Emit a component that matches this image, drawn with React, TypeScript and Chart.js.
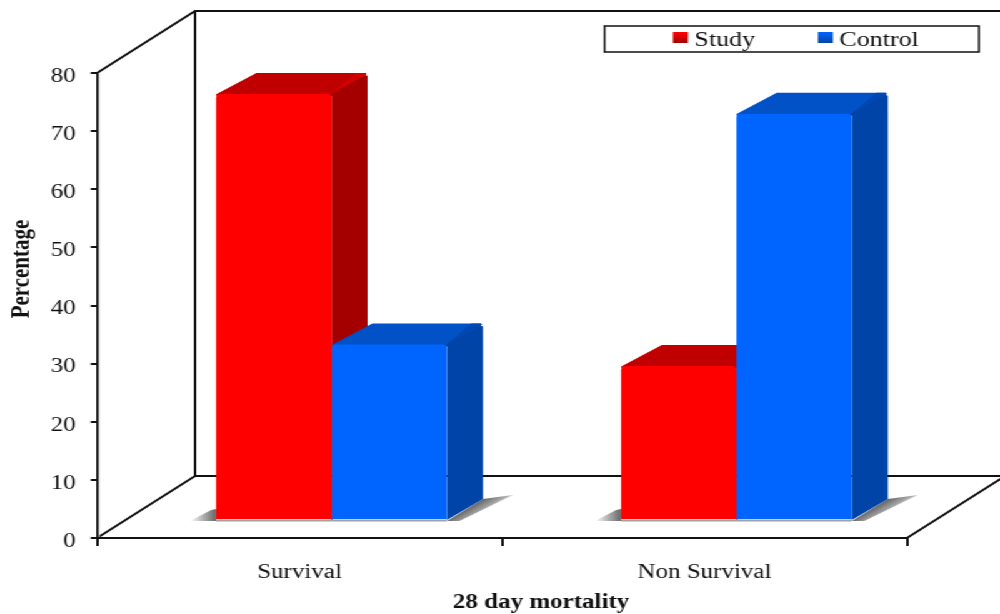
import React, { useEffect, useRef } from "react";
import { Chart, registerables } from "chart.js";

Chart.register(...registerables);

const categories = ["Survival", "Non Survival"];
const studyValues = [73.3, 26.5];
const controlValues = [30.2, 69.9];
const yTicks = [0, 80];
const xTitle = "28 day mortality";
const yTitle = "Percentage";

const FONT = "'Liberation Serif', serif";
const STRETCH = 1.25;
const INNER_W = 1000 / STRETCH;
const H = 614;
const WALL_DX = 98 / STRETCH;
const WALL_DY = -62;
const BAR_DX = 32 / STRETCH;
const BAR_DY = -18;
const DEPTH_DX = 36 / STRETCH;
const DEPTH_DY = -21;

const faces = [
  { side: "#a50000", top: "#c00000", corner: "#d40000" },
  { side: "#0044a8", top: "#0052c6", corner: "#0048b4" },
];

function poly(ctx: CanvasRenderingContext2D, pts: number[][], fill: string | CanvasGradient, round = false) {
  ctx.beginPath();
  pts.forEach((p, i) => (i ? ctx.lineTo(p[0], p[1]) : ctx.moveTo(p[0], p[1])));
  ctx.closePath();
  ctx.fillStyle = fill;
  ctx.fill();
  if (round) {
    ctx.strokeStyle = fill as string;
    ctx.lineWidth = 2;
    ctx.lineJoin = "round";
    ctx.stroke();
  }
}

const box3d = {
  id: "box3d",
  beforeDatasetsDraw(chart: any) {
    const { ctx, chartArea: a } = chart;
    ctx.save();
    ctx.strokeStyle = "#111";
    ctx.lineWidth = 2;
    ctx.beginPath();
    ctx.moveTo(a.left, a.top);
    ctx.lineTo(a.left + WALL_DX, a.top + WALL_DY);
    ctx.lineTo(INNER_W + 2, a.top + WALL_DY);
    ctx.moveTo(a.left + WALL_DX, a.top + WALL_DY);
    ctx.lineTo(a.left + WALL_DX, a.bottom + WALL_DY);
    ctx.lineTo(INNER_W + 2, a.bottom + WALL_DY);
    ctx.moveTo(a.left, a.bottom);
    ctx.lineTo(a.left + WALL_DX, a.bottom + WALL_DY);
    ctx.moveTo(a.right, a.bottom);
    ctx.lineTo(a.right + WALL_DX, a.bottom + WALL_DY);
    ctx.stroke();
    // soft grey edge beside the value axis
    ctx.strokeStyle = "#cfcfcf";
    ctx.lineWidth = 1;
    ctx.beginPath();
    ctx.moveTo(a.left + 1.6, a.top);
    ctx.lineTo(a.left + 1.6, a.bottom - 1);
    ctx.stroke();

    const base = a.bottom + BAR_DY;
    const metas = [chart.getDatasetMeta(0), chart.getDatasetMeta(1)];
    // floor shadows
    metas[0].data.forEach((bar: any) => {
      const l = bar.x - bar.width / 2 + BAR_DX;
      const g = ctx.createLinearGradient(l - 21, 0, l, 0);
      g.addColorStop(0, "rgba(130,130,130,0)");
      g.addColorStop(0.5, "rgba(125,125,125,0.6)");
      g.addColorStop(1, "rgba(90,90,90,0.95)");
      poly(ctx, [[l - 21, base + 1], [l - 4, base - 10], [l, base - 11], [l, base + 1]], g);
    });
    metas[1].data.forEach((bar: any) => {
      const r = bar.x + bar.width / 2 + BAR_DX;
      const mx = r + DEPTH_DX / 2;
      const my = base + DEPTH_DY / 2;
      const g = ctx.createLinearGradient(mx, my, mx + 9.4, my + 13);
      g.addColorStop(0, "rgba(90,90,90,0.95)");
      g.addColorStop(0.5, "rgba(125,125,125,0.7)");
      g.addColorStop(1, "rgba(170,170,170,0)");
      poly(ctx, [[r, base + 1], [r + DEPTH_DX, base + DEPTH_DY], [r + DEPTH_DX + 24, base + DEPTH_DY - 4], [r + 10, base + 1]], g);
    });
    metas.forEach((meta: any) => {
      meta.data.forEach((bar: any) => {
        ctx.fillStyle = "rgba(100,100,100,0.6)";
        ctx.fillRect(bar.x - bar.width / 2 + BAR_DX, base - 0.5, bar.width, 2);
      });
    });

    // side and top faces of each bar, behind the fronts
    metas.forEach((meta: any, d: number) => {
      meta.data.forEach((bar: any) => {
        const l = bar.x - bar.width / 2 + BAR_DX;
        const r = bar.x + bar.width / 2 + BAR_DX;
        const t = bar.y + BAR_DY;
        const f = faces[d];
        poly(ctx, [[l + 1, t + 1], [l + DEPTH_DX + 4, t + DEPTH_DY + 1], [r + DEPTH_DX - 2, t + DEPTH_DY + 1], [r, t + 1]], f.top, true);
        poly(ctx, [[r, t + 1], [r + DEPTH_DX - 9, t + DEPTH_DY + 1], [r + DEPTH_DX - 2, t + DEPTH_DY + 1]], f.corner, true);
        poly(ctx, [[r, base], [r + DEPTH_DX, base + DEPTH_DY], [r + DEPTH_DX, t + DEPTH_DY + 3], [r + DEPTH_DX - 2, t + DEPTH_DY + 2], [r, t]], f.side);
      });
    });
    ctx.restore();
    ctx.save();
    ctx.translate(BAR_DX, BAR_DY);
  },
  afterDatasetsDraw(chart: any) {
    chart.ctx.restore();
  },
  afterDraw(chart: any) {
    const { ctx } = chart;
    ctx.save();
    ctx.fillStyle = "#111";
    ctx.textAlign = "center";
    ctx.textBaseline = "middle";
    ctx.font = `bold 20px ${FONT}`;
    ctx.fillText(xTitle, 541 / STRETCH, 603);
    ctx.translate(22 / STRETCH, 269);
    ctx.rotate(-Math.PI / 2);
    ctx.font = `bold 21px ${FONT}`;
    ctx.fillText(yTitle, 0, 0);
    ctx.restore();

    // legend
    ctx.save();
    const bx = 604.5 / STRETCH;
    const bw = 374.5 / STRETCH;
    ctx.fillStyle = "#fff";
    ctx.fillRect(bx, 26, bw, 26);
    ctx.strokeStyle = "#111";
    ctx.lineWidth = 1.5;
    ctx.strokeRect(bx, 26, bw, 26);
    const swatchX = [673 / STRETCH, 818 / STRETCH];
    const swatchFill = [["#ff0000", "#a50000"], ["#0064ff", "#0044a8"]];
    ctx.textBaseline = "middle";
    ctx.textAlign = "left";
    ctx.font = `20.8px ${FONT}`;
    chart.data.datasets.forEach((ds: any, i: number) => {
      const g = ctx.createLinearGradient(0, 32, 0, 43);
      g.addColorStop(0, swatchFill[i][0]);
      g.addColorStop(1, swatchFill[i][1]);
      ctx.fillStyle = g;
      ctx.fillRect(swatchX[i], 32, 15 / STRETCH, 11);
      ctx.fillStyle = "#111";
      ctx.fillText(ds.label, swatchX[i] + 21.5 / STRETCH, 41);
    });
    ctx.restore();
  },
};

export default function App() {
  const ref = useRef<HTMLCanvasElement>(null);
  useEffect(() => {
    const chart = new Chart(ref.current!, {
      type: "bar",
      data: {
        labels: categories,
        datasets: [
          { label: "Study", data: studyValues, backgroundColor: "#ff0000", clip: false as any, borderRadius: { topLeft: 4, topRight: 4 } as any, borderSkipped: false as any },
          { label: "Control", data: controlValues, backgroundColor: "#0064ff", clip: false as any, borderRadius: { topLeft: 4, topRight: 4 } as any, borderSkipped: false as any },
        ],
      },
      options: {
        responsive: false,
        animation: false,
        layout: { padding: { top: 73, right: INNER_W - 907 / STRETCH, left: 0, bottom: 0 } },
        datasets: { bar: { categoryPercentage: 0.57, barPercentage: 1 } },
        plugins: { legend: { display: false }, tooltip: { enabled: false }, title: { display: false } },
        scales: {
          x: {
            grid: { drawOnChartArea: false, color: "#111", tickLength: 8, lineWidth: 2 },
            border: { color: "#111", width: 2 },
            ticks: { color: "#111", font: { family: FONT, size: 20 }, padding: 15, maxRotation: 0 },
            afterFit(s: any) { s.height = 76; },
          },
          y: {
            min: yTicks[0],
            max: yTicks[1],
            grid: { drawOnChartArea: false, color: "#111", tickLength: 5, lineWidth: 2 },
            border: { color: "#111", width: 2 },
            ticks: { stepSize: 10, color: "#111", font: { family: FONT, size: 20 }, padding: 12, labelOffset: 3.5 },
            afterFit(s: any) { s.width = 97 / STRETCH; },
          },
        },
      },
      plugins: [box3d],
    } as any);
    return () => chart.destroy();
  }, []);
  return (
    <div style={{ position: "absolute", left: 0, top: 0, width: INNER_W, height: H, background: "#fff", transform: `scaleX(${STRETCH})`, transformOrigin: "0 0" }}>
      <canvas ref={ref} width={INNER_W} height={H} style={{ display: "block" }} />
    </div>
  );
}
